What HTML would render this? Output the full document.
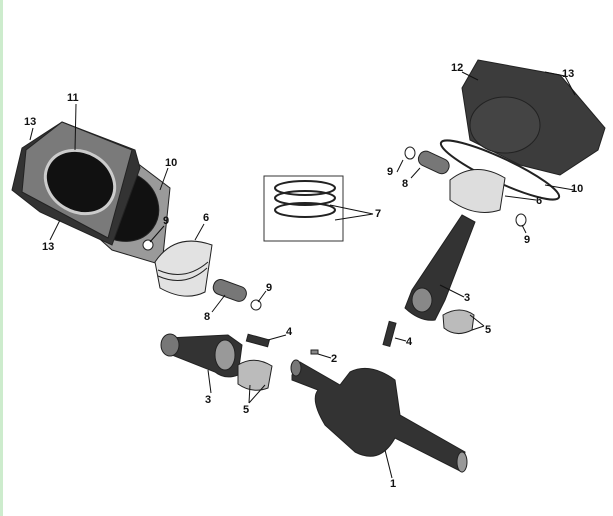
<!DOCTYPE html>
<html><head><style>
html,body{margin:0;padding:0;background:#fff;}
svg{display:block;}
text{font-family:"Liberation Sans",sans-serif;font-weight:bold;font-size:11px;fill:#111;}
</style></head><body>
<svg width="613" height="516" viewBox="0 0 613 516" xmlns="http://www.w3.org/2000/svg">
<rect width="613" height="516" fill="#fff"/>
<rect x="0" y="0" width="3" height="516" fill="#cdeccd"/>
<g stroke="#222" stroke-width="1" fill="none">
<!-- left gasket 10 -->
<polygon points="120,150 170,188 162,265 112,250 62,205" fill="#9a9a9a"/>
<ellipse cx="122" cy="206" rx="38" ry="34" fill="#111" transform="rotate(35 122 206)"/>
<!-- left cylinder 11 -->
<polygon points="62,122 135,150 140,168 112,245 40,212 12,190 22,148" fill="#333"/>
<polygon points="62,122 132,150 108,238 22,192 26,150" fill="#7a7a7a"/>
<ellipse cx="80" cy="182" rx="36" ry="30" fill="#111" stroke="#ccc" stroke-width="3" transform="rotate(30 80 182)"/>
<!-- left piston 6 -->
<path d="M155,262 Q175,232 212,245 L205,292 Q185,302 160,288 Z" fill="#e2e2e2"/>
<path d="M158,270 Q185,282 208,262" />
<path d="M158,276 Q185,288 207,268" />
<!-- left pin 8 -->
<rect x="213" y="283" width="34" height="15" rx="7" fill="#777" transform="rotate(20 230 290)"/>
<circle cx="256" cy="305" r="5" fill="#fff"/>
<circle cx="148" cy="245" r="5" fill="#fff"/>
<!-- left con rod 3 -->
<path d="M168,338 L228,335 L242,345 L238,375 Q225,380 215,372 L172,355 Z" fill="#333"/>
<ellipse cx="170" cy="345" rx="9" ry="11" fill="#777"/>
<ellipse cx="225" cy="355" rx="10" ry="15" fill="#999"/>
<path d="M238,365 Q254,355 272,366 L268,388 Q252,394 238,384 Z" fill="#bbb"/>
<!-- bolt 4 left -->
<rect x="247" y="337" width="22" height="7" fill="#333" transform="rotate(15 258 340)"/>
<rect x="311" y="350" width="7" height="4" fill="#888"/>
<!-- crankshaft 1 -->
<path d="M292,375 L300,362 L340,385 L350,372 Q370,362 395,380 L400,415 L465,452 L462,472 L395,438 Q380,465 355,452 L325,425 Q310,400 318,390 L292,380 Z" fill="#333"/>
<ellipse cx="462" cy="462" rx="5" ry="10" fill="#999"/>
<ellipse cx="296" cy="368" rx="5" ry="8" fill="#777"/>
<!-- right cylinder 12 -->
<polygon points="478,60 560,75 605,128 598,150 560,175 520,165 470,140 462,88" fill="#3c3c3c"/>
<ellipse cx="505" cy="125" rx="35" ry="28" fill="#444"/>
<!-- right gasket 10 -->
<ellipse cx="500" cy="170" rx="65" ry="12" transform="rotate(25 500 170)" stroke-width="2"/>
<!-- right piston 6 -->
<path d="M450,180 Q475,160 505,178 L500,210 Q475,218 450,200 Z" fill="#ddd"/>
<!-- right pin 8 -->
<rect x="418" y="155" width="32" height="15" rx="7" fill="#777" transform="rotate(25 434 162)"/>
<ellipse cx="410" cy="153" rx="5" ry="6" fill="#fff"/>
<ellipse cx="521" cy="220" rx="5" ry="6" fill="#fff"/>
<!-- right con rod 3 -->
<path d="M462,215 L475,222 L445,300 L435,320 Q420,322 405,308 L412,290 Z" fill="#333"/>
<ellipse cx="422" cy="300" rx="10" ry="12" fill="#888"/>
<path d="M443,315 Q460,305 474,315 L472,330 Q456,338 444,328 Z" fill="#bbb"/>
<rect x="386" y="322" width="7" height="24" fill="#333" transform="rotate(15 390 334)"/>
<!-- ring box 7 -->
<rect x="264" y="176" width="79" height="65" fill="#fff" stroke="#333"/>
<ellipse cx="305" cy="188" rx="30" ry="7" stroke-width="2"/>
<ellipse cx="305" cy="198" rx="30" ry="7" stroke-width="2"/>
<ellipse cx="305" cy="210" rx="30" ry="7" stroke-width="2"/>
</g>
<g stroke="#111" stroke-width="1">
<line x1="76" y1="104" x2="75" y2="150"/><line x1="33" y1="128" x2="30" y2="140"/>
<line x1="168" y1="168" x2="160" y2="190"/><line x1="164" y1="226" x2="150" y2="242"/>
<line x1="204" y1="224" x2="195" y2="240"/><line x1="50" y1="240" x2="60" y2="220"/>
<line x1="266" y1="291" x2="258" y2="302"/><line x1="212" y1="312" x2="225" y2="295"/>
<line x1="286" y1="335" x2="268" y2="340"/><line x1="331" y1="358" x2="318" y2="354"/>
<line x1="211" y1="393" x2="208" y2="370"/><line x1="249" y1="403" x2="250" y2="385"/><line x1="249" y1="403" x2="265" y2="385"/>
<line x1="392" y1="478" x2="385" y2="450"/><line x1="462" y1="72" x2="478" y2="80"/>
<line x1="565" y1="76" x2="545" y2="72"/><line x1="565" y1="76" x2="575" y2="95"/>
<line x1="397" y1="172" x2="403" y2="160"/><line x1="411" y1="178" x2="420" y2="168"/>
<line x1="574" y1="190" x2="545" y2="185"/><line x1="536" y1="200" x2="505" y2="196"/>
<line x1="373" y1="214" x2="330" y2="205"/><line x1="373" y1="214" x2="335" y2="220"/>
<line x1="526" y1="233" x2="522" y2="225"/><line x1="464" y1="297" x2="440" y2="285"/>
<line x1="484" y1="326" x2="470" y2="315"/><line x1="484" y1="326" x2="472" y2="330"/>
<line x1="406" y1="341" x2="395" y2="338"/>
</g>
<text x="24" y="125">13</text><text x="67" y="101">11</text><text x="165" y="166">10</text>
<text x="163" y="224">9</text><text x="203" y="221">6</text><text x="42" y="250">13</text>
<text x="266" y="291">9</text><text x="204" y="320">8</text><text x="286" y="335">4</text>
<text x="331" y="362">2</text><text x="205" y="403">3</text><text x="243" y="413">5</text>
<text x="390" y="487">1</text><text x="451" y="71">12</text><text x="562" y="77">13</text>
<text x="387" y="175">9</text><text x="402" y="187">8</text><text x="571" y="192">10</text>
<text x="536" y="204">6</text><text x="375" y="217">7</text><text x="524" y="243">9</text>
<text x="464" y="301">3</text><text x="485" y="333">5</text><text x="406" y="345">4</text>
</svg>
</body></html>
